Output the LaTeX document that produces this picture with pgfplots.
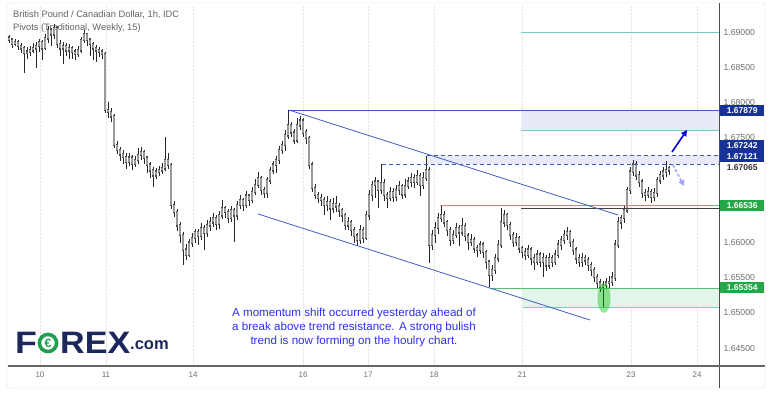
\documentclass[border=0pt]{standalone}
\usepackage{fontspec}
\setmainfont{Liberation Sans}
\usepackage{pgfplots}
\usepackage{pgfplotstable}
\pgfplotsset{compat=1.18}
\usetikzlibrary{arrows.meta}
\definecolor{chanblue}{RGB}{62,92,196}
\definecolor{navybox}{RGB}{22,50,150}
\definecolor{greenbox}{RGB}{34,168,70}
\definecolor{pivgreen}{RGB}{90,190,120}
\definecolor{teal}{RGB}{120,205,195}
\definecolor{lav}{RGB}{232,234,247}
\definecolor{lgreen}{RGB}{226,245,233}
\definecolor{txtblue}{RGB}{45,45,245}
\definecolor{logonavy}{RGB}{28,40,92}
\definecolor{logogreen}{RGB}{30,160,80}
\definecolor{tickgray}{RGB}{110,110,110}

\pgfplotstableread{
x o h l c
9 1.6892 1.6896 1.6884 1.6889
12 1.6889 1.6892 1.6878 1.6883
15 1.6883 1.6890 1.6880 1.6886
18 1.6886 1.6889 1.6874 1.6880
21 1.6880 1.6885 1.6870 1.6877
24 1.6877 1.6880 1.6842 1.6870
27 1.6870 1.6878 1.6862 1.6872
30 1.6872 1.6880 1.6866 1.6874
33 1.6874 1.6884 1.6870 1.6877
36 1.6877 1.6886 1.6849 1.6880
39 1.6880 1.6890 1.6872 1.6886
42 1.6886 1.6889 1.6860 1.6877
45 1.6877 1.6897 1.6874 1.6891
48 1.6891 1.6909 1.6885 1.6903
51 1.6903 1.6906 1.6880 1.6897
54 1.6897 1.6911 1.6890 1.6906
57 1.6906 1.6908 1.6878 1.6883
60 1.6883 1.6888 1.6866 1.6877
63 1.6877 1.6886 1.6854 1.6880
66 1.6880 1.6884 1.6866 1.6874
69 1.6874 1.6883 1.6862 1.6877
72 1.6877 1.6880 1.6862 1.6872
75 1.6872 1.6876 1.6860 1.6869
78 1.6869 1.6880 1.6864 1.6874
81 1.6874 1.6893 1.6870 1.6889
84 1.6889 1.6903 1.6884 1.6897
87 1.6897 1.6899 1.6880 1.6889
90 1.6889 1.6892 1.6866 1.6883
93 1.6883 1.6886 1.6860 1.6877
96 1.6877 1.6881 1.6857 1.6874
99 1.6874 1.6879 1.6864 1.6872
102 1.6872 1.6876 1.6862 1.6869
105 1.6869 1.6872 1.6784 1.6789
108 1.6789 1.6800 1.6778 1.6786
111 1.6786 1.6792 1.6772 1.6780
114 1.6780 1.6783 1.6735 1.6739
117 1.6739 1.6745 1.6726 1.6732
120 1.6732 1.6736 1.6716 1.6726
123 1.6726 1.6732 1.6712 1.6722
126 1.6722 1.6728 1.6705 1.6715
129 1.6715 1.6728 1.6710 1.6721
132 1.6721 1.6725 1.6704 1.6712
135 1.6712 1.6724 1.6708 1.6718
138 1.6718 1.6735 1.6712 1.6725
141 1.6725 1.6736 1.6718 1.6729
144 1.6729 1.6732 1.6712 1.6721
147 1.6721 1.6724 1.6700 1.6711
150 1.6711 1.6715 1.6692 1.6703
153 1.6703 1.6708 1.6679 1.6696
156 1.6696 1.6706 1.6690 1.6701
159 1.6701 1.6710 1.6695 1.6703
162 1.6703 1.6714 1.6698 1.6706
165 1.6706 1.6750 1.6702 1.6718
168 1.6718 1.6728 1.6705 1.6711
171 1.6711 1.6714 1.6648 1.6654
174 1.6654 1.6660 1.6636 1.6644
177 1.6644 1.6648 1.6616 1.6625
180 1.6625 1.6630 1.6600 1.6611
183 1.6611 1.6615 1.6568 1.6590
186 1.6590 1.6598 1.6576 1.6583
189 1.6583 1.6606 1.6580 1.6600
192 1.6600 1.6614 1.6594 1.6607
195 1.6607 1.6620 1.6600 1.6615
198 1.6615 1.6619 1.6597 1.6610
201 1.6610 1.6628 1.6604 1.6621
204 1.6621 1.6625 1.6590 1.6614
207 1.6614 1.6632 1.6608 1.6625
210 1.6625 1.6636 1.6617 1.6629
213 1.6629 1.6642 1.6622 1.6635
216 1.6635 1.6639 1.6618 1.6627
219 1.6627 1.6645 1.6620 1.6639
222 1.6639 1.6661 1.6634 1.6649
225 1.6649 1.6652 1.6635 1.6644
228 1.6644 1.6648 1.6628 1.6635
231 1.6635 1.6652 1.6630 1.6646
234 1.6646 1.6650 1.6601 1.6639
237 1.6639 1.6660 1.6632 1.6654
240 1.6654 1.6668 1.6648 1.6661
243 1.6661 1.6664 1.6645 1.6654
246 1.6654 1.6674 1.6650 1.6667
249 1.6667 1.6670 1.6652 1.6661
252 1.6661 1.6680 1.6656 1.6672
255 1.6672 1.6690 1.6668 1.6682
258 1.6682 1.6701 1.6678 1.6692
261 1.6692 1.6695 1.6668 1.6675
264 1.6675 1.6680 1.6664 1.6671
267 1.6671 1.6694 1.6664 1.6689
270 1.6689 1.6708 1.6684 1.6703
273 1.6703 1.6716 1.6698 1.6711
276 1.6711 1.6724 1.6700 1.6718
279 1.6718 1.6738 1.6712 1.6732
282 1.6732 1.6745 1.6726 1.6739
285 1.6739 1.6760 1.6730 1.6753
288 1.6753 1.6789 1.6748 1.6767
291 1.6767 1.6772 1.6750 1.6757
294 1.6757 1.6762 1.6740 1.6746
297 1.6746 1.6777 1.6742 1.6767
300 1.6767 1.6780 1.6760 1.6774
303 1.6774 1.6778 1.6750 1.6757
306 1.6757 1.6762 1.6740 1.6749
309 1.6749 1.6752 1.6705 1.6711
312 1.6711 1.6715 1.6672 1.6678
315 1.6678 1.6684 1.6662 1.6668
318 1.6668 1.6672 1.6656 1.6664
321 1.6664 1.6670 1.6652 1.6661
324 1.6661 1.6665 1.6640 1.6654
327 1.6654 1.6666 1.6645 1.6658
330 1.6658 1.6662 1.6632 1.6649
333 1.6649 1.6664 1.6642 1.6655
336 1.6655 1.6666 1.6644 1.6652
339 1.6652 1.6656 1.6636 1.6646
342 1.6646 1.6650 1.6630 1.6639
345 1.6639 1.6642 1.6618 1.6625
348 1.6625 1.6636 1.6618 1.6629
351 1.6629 1.6632 1.6610 1.6618
354 1.6618 1.6622 1.6600 1.6610
357 1.6610 1.6614 1.6595 1.6604
360 1.6604 1.6625 1.6598 1.6618
363 1.6618 1.6622 1.6600 1.6607
366 1.6607 1.6645 1.6604 1.6639
369 1.6639 1.6675 1.6632 1.6668
372 1.6668 1.6688 1.6660 1.6682
375 1.6682 1.6694 1.6664 1.6687
378 1.6687 1.6690 1.6650 1.6675
381 1.6675 1.6712 1.6670 1.6685
384 1.6685 1.6690 1.6660 1.6668
387 1.6668 1.6672 1.6650 1.6664
390 1.6664 1.6680 1.6660 1.6672
393 1.6672 1.6678 1.6658 1.6665
396 1.6665 1.6682 1.6660 1.6675
399 1.6675 1.6688 1.6668 1.6681
402 1.6681 1.6684 1.6662 1.6669
405 1.6669 1.6690 1.6664 1.6681
408 1.6681 1.6694 1.6676 1.6687
411 1.6687 1.6700 1.6680 1.6692
414 1.6692 1.6698 1.6678 1.6687
417 1.6687 1.6703 1.6682 1.6695
420 1.6695 1.6700 1.6666 1.6682
423 1.6682 1.6700 1.6676 1.6692
426 1.6692 1.6724 1.6688 1.6703
429 1.6703 1.6708 1.6571 1.6597
432 1.6597 1.6618 1.6590 1.6611
435 1.6611 1.6630 1.6600 1.6621
438 1.6621 1.6642 1.6612 1.6635
441 1.6635 1.6654 1.6630 1.6639
444 1.6639 1.6645 1.6622 1.6629
447 1.6629 1.6633 1.6610 1.6618
450 1.6618 1.6622 1.6595 1.6604
453 1.6604 1.6618 1.6598 1.6611
456 1.6611 1.6628 1.6606 1.6621
459 1.6621 1.6625 1.6596 1.6615
462 1.6615 1.6635 1.6610 1.6624
465 1.6624 1.6628 1.6602 1.6610
468 1.6610 1.6614 1.6590 1.6601
471 1.6601 1.6612 1.6596 1.6604
474 1.6604 1.6608 1.6585 1.6592
477 1.6592 1.6597 1.6580 1.6590
480 1.6590 1.6603 1.6584 1.6597
483 1.6597 1.6601 1.6578 1.6587
486 1.6587 1.6590 1.6562 1.6573
489 1.6573 1.6576 1.6537 1.6554
492 1.6554 1.6568 1.6545 1.6561
495 1.6561 1.6584 1.6555 1.6578
498 1.6578 1.6604 1.6572 1.6597
501 1.6597 1.6649 1.6592 1.6629
504 1.6629 1.6646 1.6622 1.6639
507 1.6639 1.6643 1.6618 1.6625
510 1.6625 1.6630 1.6604 1.6611
513 1.6611 1.6615 1.6594 1.6601
516 1.6601 1.6614 1.6596 1.6607
519 1.6607 1.6610 1.6585 1.6592
522 1.6592 1.6596 1.6578 1.6587
525 1.6587 1.6592 1.6575 1.6583
528 1.6583 1.6597 1.6578 1.6590
531 1.6590 1.6594 1.6568 1.6578
534 1.6578 1.6584 1.6561 1.6573
537 1.6573 1.6590 1.6568 1.6583
540 1.6583 1.6587 1.6565 1.6573
543 1.6573 1.6585 1.6551 1.6578
546 1.6578 1.6582 1.6560 1.6568
549 1.6568 1.6585 1.6562 1.6578
552 1.6578 1.6582 1.6565 1.6573
555 1.6573 1.6590 1.6568 1.6583
558 1.6583 1.6604 1.6578 1.6597
561 1.6597 1.6610 1.6590 1.6604
564 1.6604 1.6618 1.6598 1.6611
567 1.6611 1.6622 1.6604 1.6615
570 1.6615 1.6618 1.6594 1.6601
573 1.6601 1.6605 1.6582 1.6590
576 1.6590 1.6594 1.6570 1.6578
579 1.6578 1.6584 1.6565 1.6573
582 1.6573 1.6585 1.6566 1.6578
585 1.6578 1.6582 1.6568 1.6575
588 1.6575 1.6580 1.6560 1.6568
591 1.6568 1.6572 1.6552 1.6561
594 1.6561 1.6565 1.6544 1.6551
597 1.6551 1.6556 1.6535 1.6543
600 1.6543 1.6548 1.6530 1.6537
603 1.6537 1.6545 1.6508 1.6540
606 1.6540 1.6550 1.6534 1.6543
609 1.6543 1.6552 1.6536 1.6544
612 1.6544 1.6558 1.6538 1.6550
615 1.6550 1.6604 1.6546 1.6597
618 1.6597 1.6636 1.6592 1.6629
621 1.6629 1.6640 1.6620 1.6635
624 1.6635 1.6652 1.6628 1.6646
627 1.6646 1.6680 1.6642 1.6675
630 1.6675 1.6708 1.6670 1.6701
633 1.6701 1.6718 1.6695 1.6711
636 1.6711 1.6716 1.6690 1.6696
639 1.6696 1.6702 1.6680 1.6687
642 1.6687 1.6690 1.6664 1.6671
645 1.6671 1.6676 1.6660 1.6668
648 1.6668 1.6680 1.6664 1.6672
651 1.6672 1.6676 1.6656 1.6665
654 1.6665 1.6678 1.6660 1.6671
657 1.6671 1.6694 1.6665 1.6689
660 1.6689 1.6702 1.6684 1.6696
663 1.6696 1.6708 1.6690 1.6701
666 1.6701 1.6716 1.6694 1.6703
669 1.6703 1.6710 1.6696 1.67065
}\candles

\begin{document}
\begin{tikzpicture}[x=1pt,y=1pt]
\useasboundingbox (0,0) rectangle (771,393);
\draw[black!12, rounded corners=3pt] (7,5) rectangle (765,390);
% title
\node[anchor=base west, inner sep=0pt, text=black!62, font=\fontsize{9.3}{10}\selectfont] at (13,375) {British Pound / Canadian Dollar, 1h, IDC};
\node[anchor=base west, inner sep=0pt, text=black!62, font=\fontsize{9.3}{10}\selectfont] at (13,362) {Pivots (Traditional, Weekly, 15)};
\begin{axis}[
  at={(8pt,27pt)}, anchor=south west,
  scale only axis, width=711pt, height=361pt,
  xmin=8, xmax=719, ymin=1.64244, ymax=1.69385,
  clip=false,
  axis line style={draw=none},
  tick style={draw=none},
  scaled y ticks=false,
  xtick={40,106,193,303,368,434,522,631,697},
  xticklabels={10,11,14,16,17,18,21,23,24},
  xticklabel style={text=tickgray, font=\fontsize{8}{9}\selectfont, yshift=-2pt},
  ytick={1.645,1.65,1.655,1.66,1.675,1.68,1.685,1.69},
  yticklabels={1.64500,1.65000,1.65500,1.66000,1.67500,1.68000,1.68500,1.69000},
  yticklabel pos=right,
  yticklabel style={text=tickgray, font=\fontsize{8.7}{9}\selectfont, xshift=1pt},
  xmajorgrids,
  major grid style={black!10, densely dotted},
]
% shaded zones
\fill[lav] (axis cs:521,1.67605) rectangle (axis cs:719,1.67879);
\fill[lav] (axis cs:427,1.67121) rectangle (axis cs:719,1.67242);
\fill[lgreen] (axis cs:523,1.65079) rectangle (axis cs:719,1.65354);
% candles: wicks
\addplot[draw=none, mark=none, forget plot,
  error bars/.cd, y dir=both, y explicit, error mark=none,
  error bar style={line width=0.55pt, black!85}]
  table[x=x, y expr=(\thisrow{h}+\thisrow{l})/2, y error expr=(\thisrow{h}-\thisrow{l})/2] {\candles};
% candles: bodies (outline)
\addplot[draw=none, mark=none, forget plot,
  error bars/.cd, y dir=both, y explicit, error mark=none,
  error bar style={line width=2.6pt, black!70, line cap=rect}]
  table[x=x, y expr=(\thisrow{o}+\thisrow{c})/2, y error expr=abs(\thisrow{o}-\thisrow{c})/2] {\candles};
% candles: bodies (fill)
\addplot[draw=none, mark=none, forget plot,
  error bars/.cd, y dir=both, y explicit, error mark=none,
  error bar style={line width=1.4pt, black!40}]
  table[x=x, y expr=(\thisrow{o}+\thisrow{c})/2, y error expr=abs(\thisrow{o}-\thisrow{c})/2] {\candles};
% pivot / level lines
\draw[teal, line width=0.8pt] (axis cs:521,1.69) -- (axis cs:719,1.69);
\draw[teal, line width=0.8pt] (axis cs:521,1.67605) -- (axis cs:719,1.67605);
\draw[teal, line width=0.8pt] (axis cs:523,1.65079) -- (axis cs:719,1.65079);
\draw[chanblue, line width=0.8pt] (axis cs:289,1.67879) -- (axis cs:719,1.67879);
\draw[chanblue, line width=0.8pt, dash pattern=on 4pt off 3pt] (axis cs:427,1.67242) -- (axis cs:719,1.67242);
\draw[chanblue, line width=0.8pt, dash pattern=on 4pt off 3pt] (axis cs:382,1.67121) -- (axis cs:719,1.67121);
\draw[pivgreen, line width=0.9pt] (axis cs:440,1.66536) -- (axis cs:719,1.66536);
\draw[black!75, line width=0.8pt] (axis cs:521,1.66488) -- (axis cs:719,1.66488);
\draw[pivgreen, line width=0.9pt] (axis cs:490,1.65354) -- (axis cs:719,1.65354);
% channel
\draw[chanblue, line width=0.8pt] (axis cs:289,1.67889) -- (axis cs:618,1.66394);
\draw[chanblue, line width=0.8pt] (axis cs:258,1.66409) -- (axis cs:590,1.64899);
% highlight ellipse
\fill[green!75!black, opacity=0.4] (axis cs:604,1.65213) ellipse [x radius=6.5pt, y radius=15pt];
% arrows
\draw[-{Triangle[length=6pt,width=6pt]}, line width=1.6pt, blue!85!black] (axis cs:672,1.67292) -- (axis cs:687,1.67605);
\draw[-{Triangle[length=6pt,width=6pt]}, line width=1.6pt, blue!35, dash pattern=on 3pt off 2pt] (axis cs:673,1.67106) -- (axis cs:684,1.66807);
\end{axis}
% axis frame lines
\draw[black!70, line width=0.8pt] (719,5) -- (719,390);
\draw[black!60, line width=1.2pt] (8,27) -- (765,27);
% price labels
\tikzset{plab/.style={anchor=west, minimum width=44pt, minimum height=11pt, inner sep=0.8pt, text=white, font=\bfseries\fontsize{8.5}{9}\selectfont}}
\node[plab, fill=navybox] at (720,282.5) {1.67879};
\node[plab, fill=navybox] at (720,247.5) {1.67242};
\node[plab, fill=navybox] at (720,236.5) {1.67121};
\node[plab, fill=white, text=black!80] at (720,225) {1.67065};
\node[plab, fill=greenbox] at (720,187) {1.66536};
\node[plab, fill=greenbox] at (720,105) {1.65354};
% annotation text
\node[align=center, text=txtblue, font=\fontsize{11.6}{14}\selectfont] at (354,65) {A momentum shift occurred yesterday ahead of\\a break above trend resistance. A strong bulish\\trend is now forming on the houlry chart.};
% logo
\node[anchor=base west, inner sep=0pt, text=logonavy, xscale=1.15, font=\bfseries\fontsize{31}{31}\selectfont] at (15,39) {F};
\draw[logogreen, line width=3.6pt] (48,50) circle (8.6);
\node[text=logogreen, inner sep=0pt, font=\bfseries\fontsize{12}{12}\selectfont] at (48,50) {€};
\node[anchor=base west, inner sep=0pt, text=logonavy, xscale=1.1, font=\bfseries\fontsize{31}{31}\selectfont] at (60,39) {REX};
\node[anchor=base west, inner sep=0pt, text=logonavy, font=\bfseries\fontsize{16.5}{16.5}\selectfont] at (130,43) {.com};
\end{tikzpicture}
\end{document}
